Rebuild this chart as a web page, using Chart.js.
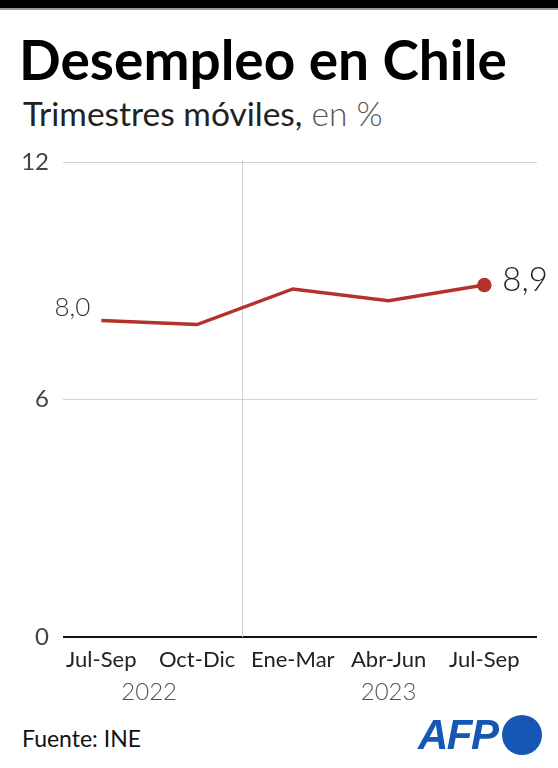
<!DOCTYPE html>
<html><head><meta charset="utf-8">
<script src="https://cdn.jsdelivr.net/npm/chart.js@4"></script>
<style>
body{margin:0;width:558px;height:768px;background:#fff;position:relative;overflow:hidden;font-family:Lato,"Noto Sans",sans-serif;}
#bar{position:absolute;left:0;top:0;width:558px;height:8px;background:#000;border-bottom:2px solid #9a9a9a;}
#title{position:absolute;left:19px;top:31px;font-weight:700;font-size:55px;line-height:56px;color:#000;white-space:nowrap;}
#sub{position:absolute;left:23px;top:97px;font-size:33.5px;line-height:32px;color:#222;white-space:nowrap;}
#sub span{color:#555;font-weight:300;}
#src{position:absolute;left:22px;top:727px;font-size:23px;line-height:23px;color:#111;white-space:nowrap;}
#afp{position:absolute;left:418px;top:715px;height:40px;display:flex;align-items:center;}
#afp b{font-family:"Liberation Sans",Arial,sans-serif;font-weight:900;font-style:italic;font-size:42px;color:#1656b4;letter-spacing:-1.5px;}
#afp i{display:inline-block;width:40px;height:40px;border-radius:50%;background:#1656b4;margin-left:4px;}
#wrap{position:absolute;left:0;top:134px;width:558px;height:586px;}
</style></head>
<body>
<div id="bar"></div>
<div id="title">Desempleo en Chile</div>
<div id="sub">Trimestres móviles,<span> en %</span></div>
<div id="wrap"><canvas id="c"></canvas></div>
<div id="src">Fuente: INE</div>
<div id="afp"><b>AFP</b><i></i></div>
<script>
const categories = ['Jul-Sep','Oct-Dic','Ene-Mar','Abr-Jun','Jul-Sep'];
const years = ['2022','2023'];
const yearGroups = [[0,1],[2,4]];
const unemployment = [8.0, 7.9, 8.8, 8.5, 8.9];
const yTicks = [0, 6, 12];

const FONT = 'Lato, "Noto Sans", sans-serif';
const RED = '#b5322a';

const extras = {
  id:'extras',
  beforeDatasetsDraw(chart){
    const {ctx, chartArea:a, scales:{x}} = chart;
    ctx.save();
    const sx = Math.round(x.getPixelForValue(yearGroups[0][1] + 0.47)) + 0.5;
    ctx.strokeStyle = '#d2d2d2'; ctx.lineWidth = 1;
    ctx.beginPath(); ctx.moveTo(sx, a.top - 2); ctx.lineTo(sx, a.bottom); ctx.stroke();
    ctx.restore();
  },
  afterDatasetsDraw(chart){
    const {ctx, chartArea:a, scales:{x}} = chart;
    const meta = chart.getDatasetMeta(0);
    ctx.save();
    ctx.font = '300 24px ' + FONT; ctx.fillStyle = '#555';
    ctx.textAlign = 'center'; ctx.textBaseline = 'middle';
    years.forEach((y,i)=>{
      const g = yearGroups[i];
      ctx.fillText(y, x.getPixelForValue((g[0]+g[1])/2), a.bottom + 55);
    });
    const fmt = v => v.toFixed(1).replace('.', ',');
    const p0 = meta.data[0], pn = meta.data[meta.data.length-1];
    ctx.fillStyle = '#333';
    ctx.font = '300 26px ' + FONT; ctx.textAlign = 'right';
    ctx.fillText(fmt(unemployment[0]), p0.x - 11, p0.y - 13);
    ctx.font = '300 33px ' + FONT; ctx.textAlign = 'left'; ctx.fillStyle = '#222';
    ctx.fillText(fmt(unemployment[unemployment.length-1]), pn.x + 18, pn.y - 5);
    ctx.restore();
  }
};

new Chart(document.getElementById('c'), {
  type:'line',
  data:{
    datasets:[{
      data: unemployment.map((v,i)=>({x:i, y:v})),
      borderColor: RED, backgroundColor: RED, borderWidth: 3.5,
      pointRadius: unemployment.map((v,i)=> i === unemployment.length-1 ? 5.5 : 0),
      pointHoverRadius: 0, tension: 0, clip: false
    }]
  },
  options:{
    responsive:true, maintainAspectRatio:false, animation:false,
    devicePixelRatio:1,
    layout:{padding:{top:17, right:21, left:0, bottom:0}},
    plugins:{legend:{display:false}, tooltip:{enabled:false}},
    scales:{
      x:{
        type:'linear', min:-0.4, max:4.55,
        afterBuildTicks(s){ s.ticks = categories.map((c,i)=>({value:i})); },
        afterFit(s){ s.height = 83; },
        grid:{display:false, drawTicks:false},
        border:{display:false},
        ticks:{callback:(v)=>categories[v], color:'#222', padding:10, maxRotation:0, autoSkip:false,
               font:{family:FONT, size:22}}
      },
      y:{
        min:0, max:12,
        afterBuildTicks(s){ s.ticks = yTicks.map(v=>({value:v})); },
        afterFit(s){ s.width = 63; },
        grid:{drawTicks:false, color:(c)=> c.tick && c.tick.value === 0 ? '#111' : '#d2d2d2',
              lineWidth:(c)=> c.tick && c.tick.value === 0 ? 2 : 1},
        border:{display:false},
        ticks:{color:'#444', padding:14, font:{family:FONT, size:24}}
      }
    }
  },
  plugins:[extras]
});
</script>
</body></html>
